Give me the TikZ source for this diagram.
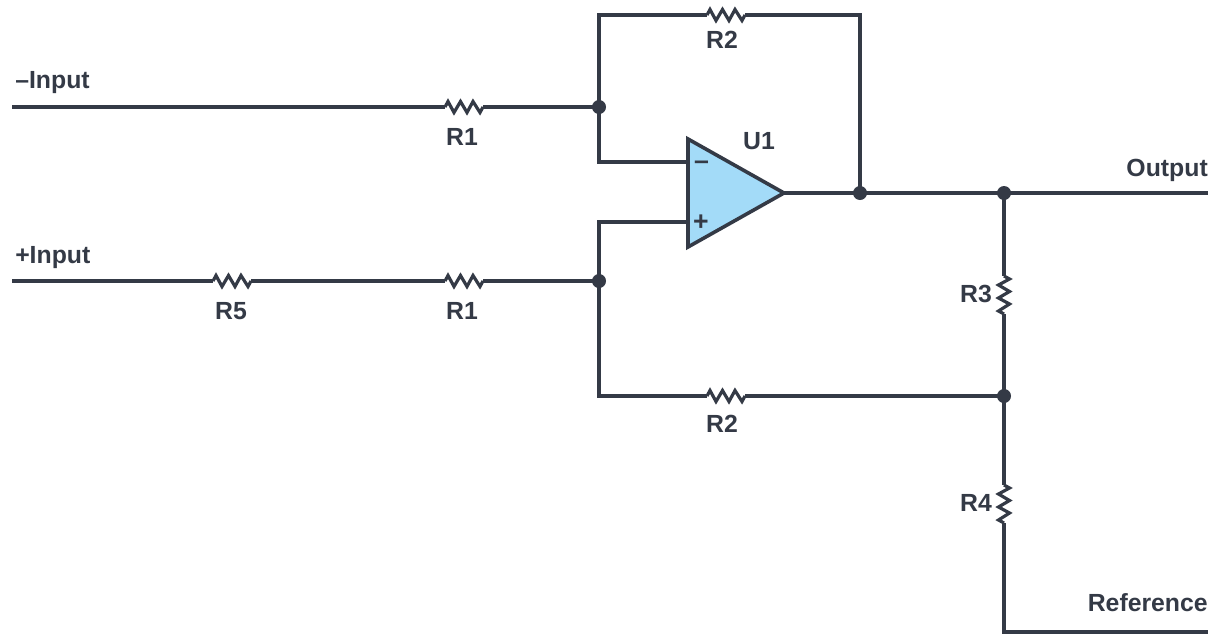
\documentclass[tikz,border=0pt]{standalone}
\usepackage{fontspec}
\setmainfont{Liberation Sans}
\definecolor{ink}{HTML}{343A46}
\definecolor{ampfill}{HTML}{A3DBF8}
\tikzset{
  x=0.75pt,y=-0.75pt,
  wire/.style={draw=ink,line width=2.4pt,line join=miter},
  dotnode/.style={circle,fill=ink,draw=none,inner sep=0pt,minimum size=10.5pt},
  lbl/.style={text=ink,font=\bfseries\fontsize{18.6pt}{20pt}\selectfont,inner sep=0pt},
  sign/.style={text=ink,font=\bfseries\fontsize{20pt}{22pt}\selectfont,inner sep=0pt},
  resh/.pic={
    \coordinate (-l) at (-19,0); \coordinate (-r) at (19,0);
    \draw[wire] (-19,0) -- (-16,-5.5) -- (-10,5.5) -- (-3.5,-5.5) -- (3,5.5) -- (9,-5.5) -- (16,5.5) -- (19,0);
  },
  resv/.pic={
    \coordinate (-t) at (0,-19); \coordinate (-b) at (0,19);
    \draw[wire] (0,-19) -- (5.5,-16) -- (-5.5,-10) -- (5.5,-3.5) -- (-5.5,3) -- (5.5,9) -- (-5.5,16) -- (0,19);
  }
}
\begin{document}
\begin{tikzpicture}
\useasboundingbox (0,0) rectangle (1224,640);
% free ends
\coordinate (inN) at (12,107);
\coordinate (inP) at (12,281);
\coordinate (outE) at (1208,193);
\coordinate (refE) at (1208,632);
% amp
\coordinate (ampT) at (688,139);
\coordinate (ampB) at (688,247);
\coordinate (ampO) at (784,193);
\coordinate (pinN) at (688,162);
\coordinate (pinP) at (688,222);
% resistors
\pic (r1a) at (464,107) {resh};
\pic (r1b) at (464,281) {resh};
\pic (r5) at (232,281) {resh};
\pic (r2a) at (726,15) {resh};
\pic (r2b) at (726,396) {resh};
\pic (r3) at (1004,295) {resv};
\pic (r4) at (1004,504) {resv};
% junctions
\node[dotnode] (jN) at (599,107) {};
\node[dotnode] (jP) at (599,281) {};
\node[dotnode] (jF) at (860,193) {};
\node[dotnode] (jO) at (1004,193) {};
\node[dotnode] (jM) at (1004,396) {};
% connectors
\draw[wire] (inN) -- (r1a-l);
\draw[wire] (r1a-r) -- (jN.center);
\draw[wire] (jN.center) |- (r2a-l);
\draw[wire] (r2a-r) -| (jF.center);
\draw[wire] (jN.center) |- (pinN);
\draw[wire] (inP) -- (r5-l);
\draw[wire] (r5-r) -- (r1b-l);
\draw[wire] (r1b-r) -- (jP.center);
\draw[wire] (jP.center) |- (pinP);
\draw[wire] (jP.center) |- (r2b-l);
\draw[wire] (r2b-r) -- (jM.center);
\draw[wire] (ampO) -- (jF.center);
\draw[wire] (jF.center) -- (jO.center);
\draw[wire] (jO.center) -- (outE);
\draw[wire] (jO.center) -- (r3-t);
\draw[wire] (r3-b) -- (jM.center);
\draw[wire] (jM.center) -- (r4-t);
\draw[wire] (r4-b) |- (refE);
% amplifier
\draw[wire,line width=2.7pt,fill=ampfill] (ampT) -- (ampO) -- (ampB) -- cycle;
\node[sign] (minus) at (701.5,165) {–};
\node[sign] (plus) at (701,223) {+};
% labels
\node[lbl,anchor=base west] (tN) at (15,88) {–Input};
\node[lbl,anchor=base west] (tP) at (15,263) {+Input};
\node[lbl,anchor=base] (t1) at (462,145) {R1};
\node[lbl,anchor=base] (t2) at (462,319) {R1};
\node[lbl,anchor=base] (t3) at (231,319) {R5};
\node[lbl,anchor=base] (t4) at (722,48) {R2};
\node[lbl,anchor=base] (t5) at (722,432) {R2};
\node[lbl,anchor=base] (t6) at (976,302) {R3};
\node[lbl,anchor=base] (t7) at (976,511) {R4};
\node[lbl,anchor=base] (t8) at (759,149) {U1};
\node[lbl,anchor=base east] (t9) at (1208,176) {Output};
\node[lbl,anchor=base east] (t10) at (1208,611) {Reference};
\end{tikzpicture}
\end{document}
